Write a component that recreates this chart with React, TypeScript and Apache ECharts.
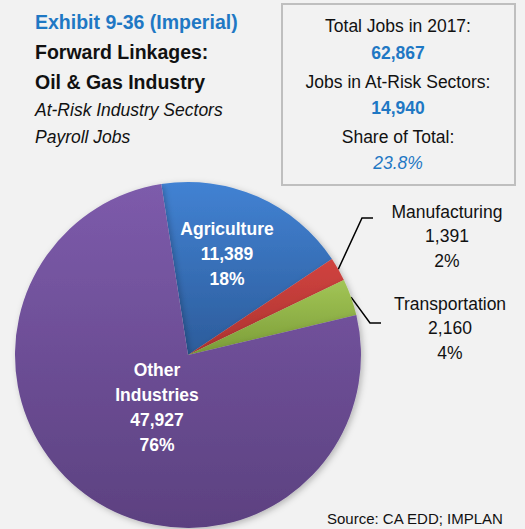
import React, { useEffect, useRef } from "react";
import * as echarts from "echarts";

const categories = ["Agriculture", "Manufacturing", "Transportation", "Other Industries"];
const jobs = [11389, 1391, 2160, 47927];
const shareLabels = ["18%", "2%", "4%", "76%"];
const insideNames = ["Agriculture", "", "", "Other\nIndustries"];
const topColors = ["#4282d3", "#d0433f", "#a2c556", "#7d5bab"];
const bottomColors = ["#2c5c9b", "#ad3330", "#7c9d38", "#5c4180"];
const titleLines = ["Exhibit 9-36 (Imperial)", "Forward Linkages:", "Oil & Gas Industry", "At-Risk Industry Sectors", "Payroll Jobs"];
const boxLines = ["Total Jobs in 2017:", "62,867", "Jobs in At-Risk Sectors:", "14,940", "Share of Total:", "23.8%"];
const sourceText = "Source: CA EDD; IMPLAN";

const FONT = "'Liberation Sans', Arial, sans-serif";
const BLUE = "#1f78c4";

export default function App() {
  const ref = useRef<HTMLDivElement>(null);
  useEffect(() => {
    if (!ref.current) return;
    const chart = echarts.init(ref.current, null, { renderer: "svg" });
    const fmt = (v: number) => v.toLocaleString("en-US");
    const data = categories.map((name, i) => {
      const inside = i === 0 || i === 3;
      return {
        name,
        value: jobs[i],
        itemStyle: {
          color: new echarts.graphic.LinearGradient(0, 0, 0, 1, [
            { offset: 0, color: topColors[i] },
            { offset: 1, color: bottomColors[i] },
          ]),
        },
        label: inside
          ? {
              show: true,
              position: "inside",
              formatter: `${insideNames[i]}\n${fmt(jobs[i])}\n${shareLabels[i]}`,
              color: "#ffffff",
              fontWeight: "bold",
              fontSize: 17.5,
              lineHeight: 25,
              align: "center",
              fontFamily: FONT,
            }
          : {
              show: true,
              position: "outside",
              formatter: `${name}\n${fmt(jobs[i])}\n${shareLabels[i]}`,
              color: "#111111",
              fontSize: 17.5,
              lineHeight: 24.5,
              align: "center",
              fontFamily: FONT,
            },
        labelLine: inside
          ? { show: false }
          : { show: true, lineStyle: { color: "#000000", width: 1.5 } },
      };
    });
    const labelPos: Record<number, [number, number]> = {
      0: [227, 254],
      1: [447, 236],
      2: [450, 328],
      3: [157, 407],
    };
    const elbow: Record<number, [[number, number], [number, number]]> = {
      1: [[362, 218], [373, 218]],
      2: [[370, 323], [381, 323]],
    };
    const titleY = [22, 52, 82, 110, 137];
    const boxY = [26, 53, 82, 108, 137, 163];
    chart.setOption({
      animation: false,
      backgroundColor: "#f2f2f2",
      graphic: [
        ...titleLines.map((t, i) => ({
          type: "text",
          x: 35,
          y: titleY[i],
          style: {
            text: t,
            fill: i === 0 ? BLUE : "#111",
            font: i < 3 ? `bold 19.5px ${FONT}` : `italic 17.5px ${FONT}`,
            verticalAlign: "middle",
          },
        })),
        { type: "rect", shape: { x: 282, y: 4, width: 233, height: 181 }, style: { fill: "#f2f2f2", stroke: "#bfbfbf", lineWidth: 2 } },
        ...boxLines.map((t, i) => ({
          type: "text",
          x: 398,
          y: boxY[i],
          style: {
            text: t,
            fill: i % 2 === 0 ? "#111" : BLUE,
            font: `${i === 5 ? "italic " : i % 2 === 1 ? "bold " : ""}17.5px ${FONT}`,
            align: "center",
            verticalAlign: "middle",
          },
        })),
        { type: "text", left: 327, top: 511, style: { text: sourceText, fill: "#111", font: `15px ${FONT}` } },
      ],
      series: [
        {
          type: "pie",
          center: [188, 355],
          radius: 173,
          startAngle: 98.9,
          clockwise: true,
          avoidLabelOverlap: false,
          itemStyle: { shadowBlur: 6, shadowColor: "rgba(0,0,0,0.25)", shadowOffsetX: 2, shadowOffsetY: 2 },
          emphasis: { disabled: true },
          data,
          labelLayout: (params: any) => {
            const i = params.dataIndex;
            const p = labelPos[i];
            const res: any = { x: p[0], y: p[1], align: "center", verticalAlign: "middle" };
            if (elbow[i] && params.labelLinePoints) {
              res.labelLinePoints = [params.labelLinePoints[0], elbow[i][0], elbow[i][1]];
            }
            return res;
          },
        },
      ],
    });
    return () => chart.dispose();
  }, []);
  return <div ref={ref} style={{ position: "fixed", left: 0, top: 0, width: 525, height: 529 }} />;
}
